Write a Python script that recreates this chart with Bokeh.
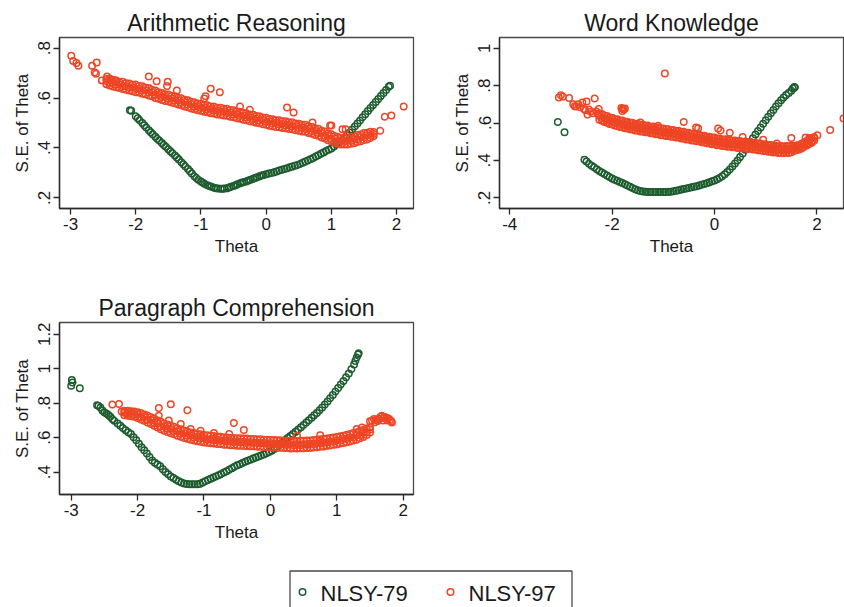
from bokeh.plotting import figure
from bokeh.layouts import column, row
from bokeh.models import Range1d, FixedTicker, CustomJSTickFormatter
from bokeh.embed import file_html
from bokeh.resources import INLINE
from bokeh.core.properties import value

GREEN = "#1d5c2e"
RED = "#ee4524"
FONT = "Liberation Sans"
INK = "#1a1a1a"
MARKER_SIZE = 6.5
MARKER_LW = 1.5

SERIES = ["NLSY-79", "NLSY-97"]
TITLES = ["Arithmetic Reasoning", "Word Knowledge", "Paragraph Comprehension"]
X_LABEL = "Theta"
Y_LABEL = "S.E. of Theta"

# ---------------- Arithmetic Reasoning ----------------
AR_XTICKS = [-3, -2, -1, 0, 1, 2]
AR_YTICKS = [0.2, 0.4, 0.6, 0.8]

AR79 = [(-2.09,0.551),(-2.07,0.549),(-2.00,0.527),(-1.97,0.519),(-1.94,0.511),(-1.90,0.500),
        (-1.87,0.491),(-1.84,0.482),(-1.80,0.471),(-1.77,0.463),(-1.74,0.455),(-1.70,0.445),
        (-1.67,0.437),(-1.64,0.430),(-1.60,0.420),(-1.57,0.412),(-1.54,0.405),(-1.50,0.395),
        (-1.47,0.387),(-1.44,0.380),(-1.40,0.370),(-1.37,0.362),(-1.34,0.354),(-1.30,0.343),
        (-1.27,0.335),(-1.24,0.326),(-1.20,0.315),(-1.17,0.306),(-1.14,0.297),(-1.10,0.286),
        (-1.07,0.279),(-1.04,0.272),(-1.00,0.265),(-0.97,0.260),(-0.94,0.255),(-0.90,0.250),
        (-0.87,0.247),(-0.84,0.244),(-0.80,0.240),(-0.77,0.238),(-0.74,0.237),(-0.70,0.236),
        (-0.67,0.236),(-0.64,0.237),(-0.60,0.238),(-0.57,0.241),(-0.54,0.244),(-0.50,0.247),
        (-0.47,0.250),(-0.44,0.254),(-0.40,0.258),(-0.37,0.261),(-0.34,0.263),(-0.30,0.266),
        (-0.27,0.269),(-0.24,0.272),(-0.20,0.276),(-0.17,0.279),(-0.14,0.282),(-0.10,0.286),
        (-0.07,0.289),(-0.04,0.291),(0.00,0.294),(0.04,0.297),(0.08,0.299),(0.12,0.302),
        (0.16,0.305),(0.20,0.309),(0.24,0.312),(0.28,0.315),(0.32,0.318),(0.36,0.322),
        (0.40,0.325),(0.44,0.328),(0.48,0.332),(0.52,0.336),(0.56,0.341),(0.60,0.346),
        (0.64,0.350),(0.68,0.355),(0.72,0.360),(0.76,0.366),(0.80,0.371),(0.84,0.377),
        (0.88,0.382),(0.92,0.388),(0.96,0.393),(1.00,0.398),(1.04,0.406),(1.08,0.414),
        (1.12,0.422),(1.16,0.431),(1.20,0.440),(1.24,0.451),(1.28,0.462),(1.32,0.474),
        (1.36,0.486),(1.40,0.498),(1.44,0.510),(1.48,0.523),(1.52,0.535),(1.56,0.548),
        (1.60,0.560),(1.64,0.572),(1.68,0.584),(1.72,0.596),(1.76,0.608),(1.80,0.620),
        (1.84,0.632),(1.88,0.645),(1.90,0.649)]

# band of NLSY-97 estimates: theta, upper, middle, lower S.E.
AR97_BAND = [(-2.45,.677,.668,.655),(-2.40,.679,.660,.650),(-2.35,.672,.661,.646),(-2.30,.670,.653,.643),
             (-2.25,.664,.655,.640),(-2.20,.665,.647,.636),(-2.15,.659,.648,.633),(-2.10,.658,.641,.630),
             (-2.05,.653,.643,.627),(-2.00,.654,.636,.623),(-1.95,.648,.637,.622),(-1.90,.647,.630,.617),
             (-1.85,.641,.631,.615),(-1.80,.640,.622,.610),(-1.75,.633,.623,.607),(-1.70,.630,.613,.600),
             (-1.65,.623,.612,.597),(-1.60,.620,.604,.592),(-1.55,.615,.605,.588),(-1.50,.614,.597,.586),
             (-1.45,.609,.598,.582),(-1.40,.607,.590,.579),(-1.35,.601,.591,.574),(-1.30,.599,.582,.571),
             (-1.25,.593,.583,.566),(-1.20,.591,.574,.563),(-1.15,.585,.575,.558),(-1.10,.583,.566,.555),
             (-1.05,.578,.568,.551),(-1.00,.577,.560,.549),(-0.95,.572,.562,.545),(-0.90,.571,.554,.543),
             (-0.85,.566,.556,.539),(-0.80,.566,.549,.538),(-0.75,.561,.551,.534),(-0.70,.561,.544,.533),
             (-0.65,.557,.547,.530),(-0.60,.557,.540,.529),(-0.55,.552,.542,.525),(-0.50,.551,.534,.523),
             (-0.45,.546,.536,.519),(-0.40,.545,.528,.517),(-0.35,.540,.530,.513),(-0.30,.539,.522,.511),
             (-0.25,.534,.524,.507),(-0.20,.533,.516,.505),(-0.15,.528,.518,.501),(-0.10,.527,.510,.499),
             (-0.05,.522,.512,.495),(0.00,.521,.504,.493),(0.05,.516,.506,.489),(0.10,.515,.498,.487),
             (0.15,.511,.501,.484),(0.20,.511,.494,.483),(0.25,.507,.497,.480),(0.30,.507,.490,.479),
             (0.35,.503,.493,.476),(0.40,.503,.486,.475),(0.45,.498,.488,.471),(0.50,.497,.480,.469),
             (0.55,.493,.483,.466),(0.60,.493,.476,.465),(0.65,.487,.477,.460),(0.70,.485,.468,.457),
             (0.75,.479,.469,.452),(0.80,.477,.460,.449),(0.85,.469,.459,.442),(0.90,.466,.449,.438),
             (0.95,.458,.448,.431),(1.00,.455,.438,.427),(1.05,.448,.438,.421),(1.10,.445,.428,.417),
             (1.15,.441,.431,.414),(1.20,.442,.425,.414),(1.25,.441,.431,.414),(1.30,.445,.428,.417),
             (1.35,.446,.436,.419),(1.40,.452,.435,.424),(1.45,.454,.444,.427),(1.50,.460,.443,.432),
             (1.55,.461,.451,.434),(1.60,.465,.450,.440),(1.65,.464,.456,.447)]

AR97_OUT = [(-2.99,0.770),(-2.96,0.749),(-2.91,0.741),(-2.88,0.730),(-2.67,0.730),(-2.60,0.743),
            (-2.63,0.703),(-2.61,0.698),(-2.52,0.671),(-2.44,0.687),(-2.38,0.675),(-2.32,0.672),
            (-1.80,0.687),(-1.68,0.667),(-1.51,0.665),(-1.52,0.648),(-1.37,0.630),(-0.93,0.607),
            (-0.85,0.637),(-0.71,0.623),(-0.95,0.598),(-0.40,0.566),(-0.25,0.553),(0.32,0.562),
            (0.42,0.542),(0.71,0.502),(0.98,0.490),(1.00,0.490),(1.17,0.475),(1.22,0.475),
            (1.75,0.469),(1.82,0.525),(1.92,0.530),(2.11,0.566)]

# ---------------- Word Knowledge ----------------
WK_XTICKS = [-4, -2, 0, 2]
WK_YTICKS = [0.2, 0.4, 0.6, 0.8, 1.0]

WK79 = [(-3.06,0.606),(-2.93,0.551),
        (-2.54,0.404),(-2.50,0.394),(-2.45,0.382),(-2.40,0.372),(-2.35,0.363),(-2.30,0.353),
        (-2.25,0.344),(-2.20,0.336),(-2.15,0.328),(-2.10,0.319),(-2.05,0.311),(-2.00,0.304),
        (-1.95,0.297),(-1.90,0.291),(-1.85,0.285),(-1.80,0.279),(-1.75,0.273),(-1.70,0.266),
        (-1.65,0.259),(-1.60,0.252),(-1.55,0.246),(-1.50,0.241),(-1.45,0.237),(-1.40,0.234),
        (-1.35,0.232),(-1.30,0.231),(-1.25,0.231),(-1.20,0.231),(-1.15,0.231),(-1.10,0.231),
        (-1.05,0.231),(-1.00,0.231),(-0.95,0.231),(-0.90,0.232),(-0.85,0.233),(-0.80,0.235),
        (-0.75,0.238),(-0.70,0.241),(-0.65,0.244),(-0.60,0.247),(-0.55,0.250),(-0.50,0.253),
        (-0.45,0.256),(-0.40,0.259),(-0.35,0.262),(-0.30,0.266),(-0.25,0.270),(-0.20,0.274),
        (-0.15,0.278),(-0.10,0.283),(-0.05,0.288),(0.00,0.293),(0.05,0.299),(0.10,0.306),
        (0.15,0.315),(0.20,0.326),(0.25,0.338),(0.30,0.352),(0.35,0.367),(0.40,0.383),
        (0.45,0.400),(0.50,0.418),(0.55,0.437),(0.60,0.457),(0.65,0.478),(0.70,0.498),
        (0.75,0.518),(0.80,0.538),(0.85,0.557),(0.90,0.576),(0.95,0.596),(1.00,0.615),
        (1.05,0.634),(1.10,0.652),(1.15,0.670),(1.20,0.688),(1.25,0.705),(1.30,0.721),
        (1.35,0.736),(1.40,0.749),(1.45,0.760),(1.50,0.772),(1.53,0.785),(1.56,0.792),(1.57,0.790)]

WK97_BAND = [(-2.25,.651,.638,.617),(-2.20,.648,.625,.612),(-2.15,.640,.626,.605),(-2.10,.638,.615,.602),
             (-2.05,.630,.616,.595),(-2.00,.628,.605,.592),(-1.95,.621,.607,.586),(-1.90,.620,.597,.584),
             (-1.85,.613,.599,.578),(-1.80,.613,.590,.577),(-1.75,.607,.593,.572),(-1.70,.607,.584,.571),
             (-1.65,.601,.587,.566),(-1.60,.601,.578,.565),(-1.55,.595,.581,.560),(-1.50,.596,.573,.560),
             (-1.45,.590,.576,.555),(-1.40,.591,.568,.555),(-1.35,.585,.571,.550),(-1.30,.586,.563,.550),
             (-1.25,.580,.566,.545),(-1.20,.581,.558,.545),(-1.15,.575,.561,.540),(-1.10,.576,.553,.540),
             (-1.05,.570,.556,.535),(-1.00,.571,.548,.535),(-0.95,.566,.552,.531),(-0.90,.567,.544,.531),
             (-0.85,.562,.548,.527),(-0.80,.563,.540,.527),(-0.75,.557,.543,.522),(-0.70,.558,.535,.522),
             (-0.65,.552,.538,.517),(-0.60,.553,.530,.517),(-0.55,.547,.533,.512),(-0.50,.548,.525,.512),
             (-0.45,.542,.528,.507),(-0.40,.543,.520,.507),(-0.35,.537,.523,.502),(-0.30,.538,.515,.502),
             (-0.25,.532,.518,.497),(-0.20,.532,.509,.496),(-0.15,.527,.513,.492),(-0.10,.527,.504,.491),
             (-0.05,.522,.508,.487),(0.00,.522,.499,.486),(0.05,.516,.502,.481),(0.10,.517,.494,.481),
             (0.15,.512,.498,.477),(0.20,.513,.490,.477),(0.25,.508,.494,.473),(0.30,.510,.487,.474),
             (0.35,.505,.491,.470),(0.40,.507,.484,.471),(0.45,.502,.488,.467),(0.50,.504,.481,.468),
             (0.55,.499,.485,.464),(0.60,.501,.478,.465),(0.65,.496,.482,.461),(0.70,.498,.475,.462),
             (0.75,.493,.479,.458),(0.80,.494,.471,.458),(0.85,.489,.475,.454),(0.90,.490,.467,.454),
             (0.95,.485,.471,.450),(1.00,.486,.463,.450),(1.05,.481,.467,.446),(1.10,.482,.459,.446),
             (1.15,.477,.463,.442),(1.20,.479,.456,.443),(1.25,.475,.461,.440),(1.30,.477,.454,.441),
             (1.35,.474,.460,.439),(1.40,.477,.454,.441),(1.45,.475,.461,.440),(1.50,.480,.457,.444),
             (1.55,.476,.466,.451),(1.60,.480,.463,.454),(1.65,.483,.473,.458),(1.70,.489,.473,.464),
             (1.75,.496,.487,.472),(1.80,.504,.489,.480),(1.85,.512,.503,.488),(1.90,.518,.503,.494),
             (1.95,.525,.518,.505)]

WK97_OUT = [(-3.04,0.736),(-3.00,0.748),(-2.96,0.741),(-2.84,0.733),(-2.76,0.700),(-2.73,0.690),
            (-2.70,0.688),(-2.66,0.700),(-2.62,0.684),(-2.58,0.710),(-2.55,0.675),(-2.52,0.668),
            (-2.50,0.715),(-2.48,0.645),(-2.45,0.672),(-2.42,0.660),(-2.38,0.652),(-2.34,0.731),
            (-2.31,0.662),(-2.28,0.648),(-2.26,0.675),(-1.82,0.680),(-1.79,0.676),(-1.77,0.672),
            (-1.75,0.678),(-1.80,0.664),(-0.97,0.865),(-1.45,0.603),(-1.10,0.585),(-0.60,0.606),
            (-0.36,0.576),(-0.32,0.572),(0.07,0.570),(0.12,0.560),(0.30,0.548),(0.55,0.525),
            (0.95,0.510),(1.22,0.490),(1.50,0.520),(1.78,0.522),(1.85,0.520),(2.01,0.535),
            (2.26,0.563),(2.52,0.624)]

# ---------------- Paragraph Comprehension ----------------
PC_XTICKS = [-3, -2, -1, 0, 1, 2]
PC_YTICKS = [0.4, 0.6, 0.8, 1.0, 1.2]

PC79 = [(-3.00,0.902),(-2.99,0.935),(-2.98,0.920),(-2.87,0.887),
        (-2.61,0.788),(-2.59,0.786),(-2.56,0.775),(-2.53,0.758),(-2.50,0.748),(-2.47,0.740),
        (-2.44,0.732),(-2.41,0.722),(-2.38,0.708),(-2.35,0.698),(-2.30,0.683),(-2.26,0.669),
        (-2.22,0.656),(-2.18,0.643),(-2.14,0.632),(-2.10,0.621),(-2.06,0.603),(-2.02,0.585),
        (-1.98,0.565),(-1.94,0.545),(-1.90,0.528),(-1.86,0.508),(-1.82,0.488),(-1.78,0.468),
        (-1.74,0.455),(-1.70,0.445),(-1.66,0.435),(-1.62,0.418),(-1.58,0.402),(-1.54,0.388),
        (-1.50,0.376),(-1.46,0.366),(-1.42,0.357),(-1.38,0.348),(-1.34,0.340),(-1.30,0.335),
        (-1.26,0.332),(-1.22,0.331),(-1.18,0.331),(-1.14,0.331),(-1.10,0.331),(-1.06,0.333),
        (-1.02,0.340),(-0.98,0.348),(-0.94,0.355),(-0.90,0.362),(-0.86,0.369),(-0.82,0.376),
        (-0.78,0.383),(-0.74,0.390),(-0.70,0.398),(-0.66,0.406),(-0.62,0.415),(-0.58,0.423),
        (-0.54,0.432),(-0.50,0.440),(-0.46,0.447),(-0.42,0.454),(-0.38,0.461),(-0.34,0.467),
        (-0.30,0.473),(-0.26,0.479),(-0.22,0.485),(-0.18,0.491),(-0.14,0.497),(-0.10,0.503),
        (-0.06,0.510),(-0.02,0.517),(0.02,0.525),(0.06,0.535),(0.10,0.547),(0.14,0.560),
        (0.18,0.573),(0.22,0.586),(0.26,0.598),(0.30,0.610),(0.34,0.622),(0.38,0.635),
        (0.42,0.648),(0.46,0.661),(0.50,0.674),(0.54,0.688),(0.58,0.702),(0.62,0.716),
        (0.66,0.730),(0.70,0.744),(0.74,0.759),(0.78,0.775),(0.82,0.792),(0.86,0.810),
        (0.90,0.829),(0.94,0.848),(0.98,0.868),(1.02,0.888),(1.06,0.908),(1.10,0.929),
        (1.14,0.950),(1.18,0.972),(1.22,0.997),(1.26,1.025),(1.28,1.045),(1.30,1.065),
        (1.32,1.082),(1.33,1.090)]

PC97_BAND = [(-2.20,.756,.745,.730),(-2.15,.757,.739,.728),(-2.10,.754,.743,.725),(-2.05,.752,.734,.721),
             (-2.00,.748,.735,.715),(-1.95,.743,.722,.706),(-1.90,.735,.720,.698),(-1.85,.729,.706,.689),
             (-1.80,.719,.703,.680),(-1.75,.711,.687,.669),(-1.70,.700,.683,.659),(-1.65,.692,.667,.649),
             (-1.60,.683,.665,.641),(-1.55,.677,.652,.633),(-1.50,.669,.651,.626),(-1.45,.663,.638,.620),
             (-1.40,.655,.637,.612),(-1.35,.649,.624,.606),(-1.30,.642,.624,.599),(-1.25,.637,.612,.594),
             (-1.20,.631,.613,.588),(-1.15,.627,.602,.584),(-1.10,.622,.604,.579),(-1.05,.620,.595,.577),
             (-1.00,.616,.598,.573),(-0.95,.614,.589,.571),(-0.90,.611,.593,.568),(-0.85,.610,.585,.567),
             (-0.80,.607,.589,.564),(-0.75,.606,.581,.563),(-0.70,.603,.585,.560),(-0.65,.602,.577,.559),
             (-0.60,.599,.581,.556),(-0.55,.599,.574,.556),(-0.50,.597,.579,.554),(-0.45,.597,.572,.554),
             (-0.40,.595,.577,.552),(-0.35,.595,.570,.552),(-0.30,.593,.575,.550),(-0.25,.593,.568,.550),
             (-0.20,.591,.573,.548),(-0.15,.591,.566,.548),(-0.10,.589,.571,.546),(-0.05,.589,.564,.546),
             (0.00,.587,.569,.544),(0.05,.587,.562,.544),(0.10,.585,.567,.542),(0.15,.585,.560,.542),
             (0.20,.583,.565,.540),(0.25,.583,.558,.540),(0.30,.581,.563,.538),(0.35,.582,.557,.539),
             (0.40,.581,.563,.538),(0.45,.582,.557,.539),(0.50,.582,.564,.539),(0.55,.584,.559,.541),
             (0.60,.584,.566,.541),(0.65,.587,.562,.544),(0.70,.588,.570,.545),(0.75,.591,.566,.548),
             (0.80,.592,.574,.549),(0.85,.596,.571,.553),(0.90,.598,.580,.555),(0.95,.602,.577,.559),
             (1.00,.604,.586,.561),(1.05,.609,.584,.566),(1.10,.612,.594,.569),(1.15,.617,.592,.574),
             (1.20,.621,.603,.578),(1.25,.627,.602,.584),(1.30,.632,.614,.589),(1.35,.640,.615,.597),
             (1.40,.647,.629,.604),(1.45,.654,.632,.616),(1.50,.660,.648,.630)]

PC97_OUT = [(-2.38,0.792),(-2.28,0.796),(-2.24,0.752),(-1.68,0.773),(-1.50,0.794),(-1.25,0.760),
            (-1.68,0.728),(-1.53,0.700),(-1.35,0.680),(-1.20,0.651),(-0.55,0.686),(-0.40,0.645),
            (-0.62,0.622),(-1.05,0.640),(-0.85,0.628),(0.40,0.612),(0.75,0.615),(1.30,0.650),
            (1.38,0.660),(1.50,0.695),(1.53,0.700),(1.56,0.708),(1.58,0.690),(1.60,0.705),
            (1.62,0.697),(1.63,0.710),(1.66,0.722),(1.68,0.727),(1.70,0.715),(1.70,0.700),
            (1.72,0.720),(1.75,0.716),(1.76,0.700),(1.78,0.712),(1.80,0.703),(1.82,0.695),
            (1.83,0.688)]


def split_points(points):
    xs = [p[0] for p in points]
    ys = [p[1] for p in points]
    return xs, ys


def split_band(band, extra):
    xs, ys = [], []
    for col in (1, 2, 3):
        xs += [b[0] for b in band]
        ys += [b[col] for b in band]
    ex, ey = split_points(extra)
    return xs + ex, ys + ey


TICK_FMT = CustomJSTickFormatter(code="""
var s = (Math.round(tick * 10) / 10).toString();
return s.replace(/^0\\./, '.').replace(/^-0\\./, '-.');
""")

LEFT_BORDER = 59
RIGHT_BORDER = 27


def panel(title, xr, yr, xticks, yticks, width, border_right, border_top, border_bottom,
          green_pts, red_x, red_y):
    p = figure(width=width, height=280, x_range=Range1d(*xr), y_range=Range1d(*yr),
               output_backend="svg", toolbar_location=None,
               min_border_left=LEFT_BORDER, min_border_right=border_right,
               min_border_top=border_top, min_border_bottom=border_bottom,
               background_fill_color="white", border_fill_color="white")
    p.title.text = title
    p.title.align = "center"
    p.title.text_font = FONT
    p.title.text_font_size = "23px"
    p.title.text_font_style = "normal"
    p.title.text_color = INK
    p.title.standoff = 4

    p.grid.visible = False
    p.outline_line_color = "#4a4a4a"
    p.outline_line_width = 1.3

    for ax in (p.xaxis[0], p.yaxis[0]):
        ax.formatter = TICK_FMT
        ax.axis_line_color = "#2a2a2a"
        ax.axis_line_width = 1.4
        ax.major_tick_line_color = "#2a2a2a"
        ax.major_tick_line_width = 1.3
        ax.major_tick_out = 6
        ax.major_tick_in = 0
        ax.minor_tick_out = 0
        ax.minor_tick_in = 0
        ax.major_label_text_font = FONT
        ax.major_label_text_font_size = "17px"
        ax.major_label_text_color = INK
        ax.axis_label_text_font = FONT
        ax.axis_label_text_font_size = "17px"
        ax.axis_label_text_font_style = "normal"
        ax.axis_label_text_color = INK
        ax.major_label_standoff = 3
        ax.axis_label_standoff = 4

    p.xaxis.ticker = FixedTicker(ticks=xticks)
    p.yaxis.ticker = FixedTicker(ticks=yticks)
    p.xaxis.axis_label = X_LABEL
    p.yaxis.axis_label = Y_LABEL
    p.yaxis.major_label_orientation = "vertical"

    gx, gy = split_points(green_pts)
    p.scatter(gx, gy, marker="circle", size=MARKER_SIZE, fill_color=None,
              line_color=GREEN, line_width=MARKER_LW)
    p.scatter(red_x, red_y, marker="circle", size=MARKER_SIZE, fill_color=None,
              line_color=RED, line_width=MARKER_LW)
    return p


ar_rx, ar_ry = split_band(AR97_BAND, AR97_OUT)
wk_rx, wk_ry = split_band(WK97_BAND, WK97_OUT)
pc_rx, pc_ry = split_band(PC97_BAND, PC97_OUT)

p1 = panel(TITLES[0], (-3.17, 2.26), (0.157, 0.843), AR_XTICKS, AR_YTICKS,
           440, RIGHT_BORDER, 37, 72, AR79, ar_rx, ar_ry)
p2 = panel(TITLES[1], (-4.2, 2.52), (0.143, 1.057), WK_XTICKS, WK_YTICKS,
           404, 1, 37, 72, WK79, wk_rx, wk_ry)
p3 = panel(TITLES[2], (-3.176, 2.155), (0.271, 1.268), PC_XTICKS, PC_YTICKS,
           440, RIGHT_BORDER, 42, 66, PC79, pc_rx, pc_ry)

# legend strip along the bottom; its frame shares the column's left/right
# borders, so the x range is expressed in page pixels across that frame
LG_W = 844
lg = figure(width=LG_W, height=47,
            x_range=Range1d(LEFT_BORDER, LG_W - RIGHT_BORDER), y_range=Range1d(47, 0),
            output_backend="svg", toolbar_location=None,
            x_axis_location=None, y_axis_location=None,
            min_border_left=LEFT_BORDER, min_border_right=RIGHT_BORDER,
            min_border_top=0, min_border_bottom=0,
            background_fill_color="white", border_fill_color="white")
lg.grid.visible = False
lg.outline_line_color = None
lg.quad(left=[289.5], right=[571.5], top=[10.5], bottom=[70], fill_color=None,
        line_color="#4a4a4a", line_width=1.3)
lg.scatter([302, 450], [31.5, 31.5], marker="circle", size=MARKER_SIZE, fill_color=None,
           line_color=[GREEN, RED], line_width=MARKER_LW)
lg.text([320, 468], [32.5, 32.5], text=SERIES, text_font=value(FONT), text_font_size="22px",
        text_baseline="middle", text_align="left", text_color=INK)

layout = column(row(p1, p2), p3, lg)

open("out.html", "w").write(file_html(layout, INLINE))
